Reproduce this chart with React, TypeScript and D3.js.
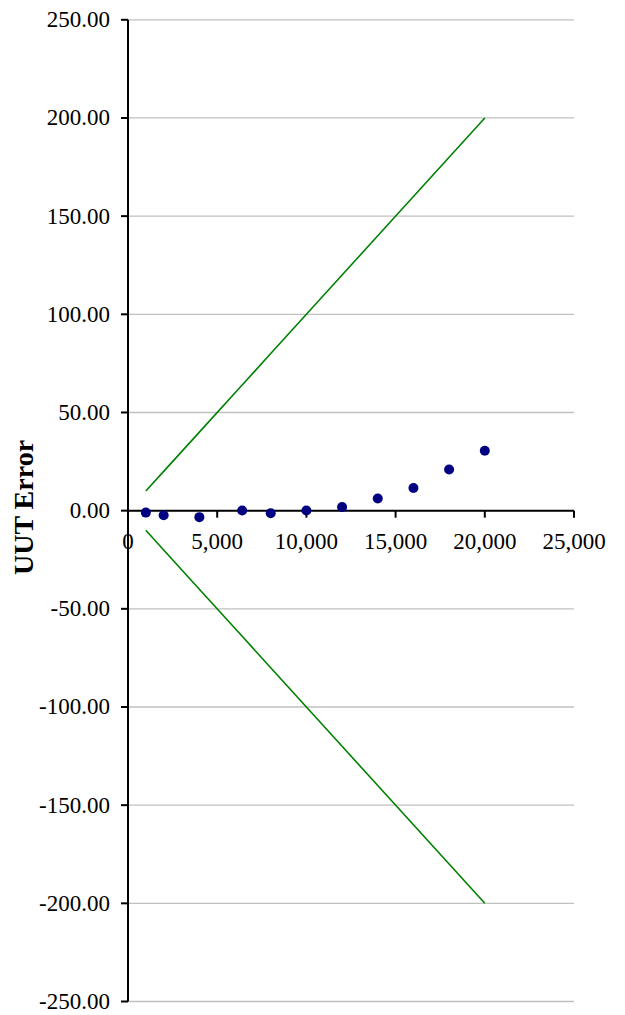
import * as d3 from "d3";

const readings = [1000, 2000, 4000, 6400, 8000, 10000, 12000, 14000, 16000, 18000, 20000];
const uutError = [-1.0, -2.3, -3.3, 0.1, -1.3, 0.1, 1.8, 6.2, 11.5, 21.0, 30.5];
const upperLimit = [10, 20, 40, 64, 80, 100, 120, 140, 160, 180, 200];
const lowerLimit = [-10, -20, -40, -64, -80, -100, -120, -140, -160, -180, -200];

const yTicks = [250, 200, 150, 100, 50, 0, -50, -100, -150, -200, -250];
const xTicks = [0, 5000, 10000, 15000, 20000, 25000];
const yTitle = "UUT Error (";

function App() {
  const width = 625;
  const height = 1015;
  const left = 128;
  const right = 574;
  const top = 19.8;
  const bottom = 1001.5;

  const x = d3.scaleLinear().domain([0, 25000]).range([left, right]);
  const y = d3.scaleLinear().domain([-250, 250]).range([bottom, top]);

  const line = d3
    .line<number>()
    .x((_, i) => x(readings[i]))
    .y((d) => y(d));

  // excel style: plain hyphen for negatives
  const fmtY = (v: number) => d3.format(".2f")(v).replace("\u2212", "-");
  const fmtX = d3.format(",");
  const font = "'Liberation Serif', 'Times New Roman', serif";

  return (
    <svg
      width={width}
      height={height}
      style={{ position: "absolute", left: 0, top: 0 }}
      fontFamily={font}
    >
      <defs>
        <clipPath id="titleClip">
          <rect x={0} y={439} width={60} height={200} />
        </clipPath>
      </defs>
      <rect width={width} height={height} fill="#fff" />

      {/* gridlines */}
      {yTicks.map((t) => (
        <line
          key={"g" + t}
          x1={left}
          x2={right}
          y1={y(t)}
          y2={y(t)}
          stroke="#c0c0c0"
          strokeWidth={1.3}
        />
      ))}

      {/* limit lines */}
      <path d={line(upperLimit) ?? ""} fill="none" stroke="#008000" strokeWidth={1.6} />
      <path d={line(lowerLimit) ?? ""} fill="none" stroke="#008000" strokeWidth={1.6} />

      {/* y axis */}
      <line x1={left} x2={left} y1={top} y2={bottom} stroke="#000" strokeWidth={2} />
      {yTicks.map((t) => (
        <g key={"y" + t}>
          <line x1={left - 7} x2={left} y1={y(t)} y2={y(t)} stroke="#000" strokeWidth={2} />
          <text
            x={110}
            y={y(t)}
            textAnchor="end"
            dominantBaseline="central"
            fontSize={23}
            fill="#000"
          >
            {fmtY(t)}
          </text>
        </g>
      ))}

      {/* x axis at y=0 */}
      <line x1={left} x2={right} y1={y(0)} y2={y(0)} stroke="#000" strokeWidth={2} />
      {xTicks.map((t) => (
        <g key={"x" + t}>
          <line x1={x(t)} x2={x(t)} y1={y(0)} y2={y(0) + 7} stroke="#000" strokeWidth={2} />
          <text x={x(t)} y={549} textAnchor="middle" fontSize={23} fill="#000">
            {fmtX(t)}
          </text>
        </g>
      ))}

      {/* points */}
      {uutError.map((e, i) => (
        <circle key={"p" + i} cx={x(readings[i])} cy={y(e)} r={5} fill="#000080" />
      ))}

      <g clipPath="url(#titleClip)">
        <text
          transform="translate(33,575) rotate(-90)"
          fontSize={28}
          fontWeight="bold"
          fill="#000"
        >
          {yTitle}
        </text>
      </g>
    </svg>
  );
}

export default App;
